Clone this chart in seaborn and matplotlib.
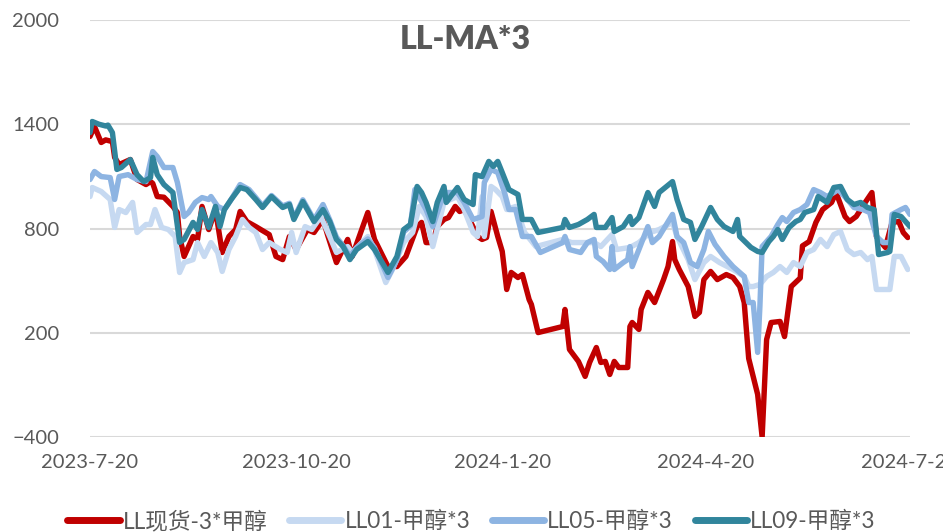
import datetime as dt
import pandas as pd
import matplotlib
matplotlib.use("Agg")
import matplotlib.pyplot as plt
import matplotlib.dates as mdates
from matplotlib.lines import Line2D
import seaborn as sns

START = dt.date(2023, 7, 20)

series_names = ["LL现货-3*甲醇", "LL01-甲醇*3", "LL05-甲醇*3", "LL09-甲醇*3"]
series_colors = ["#C00000", "#C6D9F1", "#8DB4E2", "#31859C"]

# day offsets from 2023-07-20 and values
spot_days = [0, 2, 5, 7, 10, 11, 13, 18, 21, 25, 27, 28, 30, 33, 37, 39, 40, 42, 46, 48, 50, 53, 56, 59, 62, 65, 67, 70,
             74, 80, 83, 86, 89, 92, 97, 100, 104, 106, 110, 115, 117, 124, 127, 133, 137, 141, 146, 148, 150, 153, 155,
             158, 160, 163, 165, 167, 170, 173, 175, 177, 179, 182, 184, 186, 188, 191, 193, 196, 197, 200, 211, 212,
             214, 218, 221, 223, 226, 228, 230, 232, 234, 236, 240, 241, 242, 245, 246, 249, 252, 256, 258, 260, 261,
             263, 267, 270, 272, 274, 277, 280, 284, 287, 290, 292, 294, 298, 300, 302, 304, 308, 310, 313, 317, 318,
             321, 324, 327, 331, 333, 337, 339, 342, 346, 349, 351, 355, 358, 361, 363, 365]
spot_vals = [1330, 1387, 1295, 1310, 1300, 1209, 1168, 1197, 1082, 1053, 1070, 1060, 984, 980, 927, 892, 754, 639, 754,
             737, 927, 794, 909, 662, 754, 794, 898, 840, 811, 765, 639, 621, 754, 679, 794, 777, 852, 765, 604, 737,
             639, 892, 737, 581, 581, 639, 811, 835, 719, 719, 811, 852, 863, 927, 898, 909, 835, 754, 737, 748, 898,
             754, 668, 449, 547, 518, 535, 391, 363, 201, 236, 334, 104, 35, -51, 29, 115, 29, 35, -40, 35, 0, 0, 236,
             259, 219, 334, 432, 374, 506, 581, 725, 621, 564, 466, 294, 317, 506, 553, 506, 535, 518, 466, 374, 52,
             -155, -400, 161, 259, 265, 178, 466, 515, 700, 725, 835, 909, 950, 1007, 869, 840, 869, 950, 1007, 754,
             691, 835, 840, 777, 748]

ll01_days = [0, 1, 5, 9, 11, 13, 16, 19, 21, 25, 27, 29, 32, 35, 38, 40, 42, 46, 48, 51, 54, 57, 59, 62, 65, 68, 71, 74,
             77, 80, 85, 88, 90, 92, 96, 99, 103, 107, 110, 115, 117, 124, 127, 132, 135, 140, 144, 147, 150, 153, 158,
             164, 167, 171, 173, 175, 176, 179, 181, 184, 186, 190, 194, 199, 211, 215, 219, 225, 228, 233, 235, 241,
             245, 250, 254, 260, 262, 267, 270, 274, 277, 281, 287, 292, 294, 296, 299, 302, 305, 308, 311, 314, 317,
             320, 323, 326, 329, 332, 335, 338, 341, 344, 347, 349, 351, 357, 359, 362, 365]
ll01_vals = [984, 1036, 1013, 967, 806, 909, 892, 950, 777, 823, 823, 909, 806, 794, 754, 547, 604, 621, 719, 639, 719,
             662, 553, 679, 754, 852, 806, 777, 679, 719, 679, 662, 777, 662, 811, 794, 869, 754, 662, 696, 662, 754,
             679, 489, 564, 719, 777, 927, 869, 696, 950, 984, 909, 777, 754, 984, 754, 1042, 1024, 984, 909, 927, 777,
             696, 737, 719, 719, 719, 696, 765, 679, 691, 719, 777, 794, 835, 754, 621, 506, 604, 639, 604, 564, 524,
             466, 466, 478, 524, 547, 581, 547, 604, 581, 662, 679, 737, 696, 765, 783, 679, 650, 662, 621, 639, 449,
             449, 639, 639, 564]

ll05_days = [0, 2, 5, 9, 11, 13, 17, 21, 25, 28, 30, 33, 37, 39, 42, 44, 47, 50, 53, 54, 57, 60, 63, 67, 71, 74, 77, 81,
             86, 89, 91, 95, 100, 104, 107, 110, 113, 116, 119, 124, 127, 133, 137, 140, 143, 145, 150, 153, 158, 164,
             167, 171, 175, 176, 179, 182, 185, 187, 190, 193, 197, 201, 211, 212, 214, 219, 222, 225, 226, 229, 232,
             233, 234, 238, 240, 241, 242, 245, 249, 251, 254, 260, 262, 265, 268, 271, 274, 276, 279, 283, 287, 292,
             294, 296, 298, 299, 300, 304, 307, 309, 311, 314, 317, 320, 323, 326, 329, 332, 334, 338, 341, 345, 348,
             351, 354, 357, 358, 362, 364, 366]
ll05_vals = [1082, 1128, 1099, 1093, 967, 1099, 1110, 1082, 1070, 1243, 1214, 1151, 1151, 1065, 869, 892, 950, 978, 967,
             984, 927, 909, 967, 1053, 1024, 978, 930, 990, 930, 945, 860, 965, 850, 938, 850, 750, 700, 640, 690, 740,
             690, 518, 620, 780, 815, 1024, 909, 811, 1007, 1007, 950, 852, 869, 1065, 1140, 1122, 1007, 909, 909, 754,
             754, 662, 719, 754, 679, 662, 719, 737, 639, 610, 564, 696, 564, 604, 621, 696, 581, 679, 811, 719, 754,
             881, 754, 719, 604, 581, 679, 783, 708, 639, 581, 524, 374, 374, 87, 351, 696, 754, 823, 863, 840, 892,
             909, 938, 1024, 1007, 984, 1007, 1024, 967, 921, 909, 892, 754, 719, 719, 881, 909, 921, 881]

ll09_days = [0, 1, 4, 7, 8, 10, 12, 14, 18, 21, 24, 27, 28, 30, 33, 37, 40, 42, 46, 48, 50, 53, 56, 58, 60, 63, 67, 70,
             74, 77, 81, 86, 89, 91, 95, 100, 104, 107, 110, 113, 116, 119, 124, 127, 133, 137, 140, 143, 146, 148, 150,
             153, 155, 158, 159, 164, 167, 171, 172, 175, 178, 180, 182, 184, 187, 191, 193, 197, 200, 211, 212, 214,
             218, 222, 225, 226, 230, 233, 234, 238, 241, 242, 245, 249, 252, 254, 260, 262, 265, 268, 270, 273, 277,
             280, 283, 287, 289, 290, 295, 298, 300, 303, 305, 307, 309, 312, 315, 317, 319, 323, 325, 327, 329, 332,
             335, 338, 341, 344, 347, 350, 352, 356, 357, 359, 362, 366]
ll09_vals = [1352, 1416, 1400, 1390, 1395, 1352, 1140, 1151, 1197, 1110, 1070, 1093, 1209, 1110, 1053, 1007, 720, 737,
             835, 794, 909, 806, 927, 811, 909, 967, 1036, 1024, 967, 921, 984, 921, 938, 852, 955, 840, 909, 840, 737,
             696, 621, 679, 725, 679, 547, 639, 794, 823, 1042, 1007, 950, 840, 950, 1042, 950, 1036, 967, 938, 1110,
             1099, 1186, 1157, 1186, 1122, 1024, 996, 852, 852, 777, 806, 852, 806, 823, 852, 881, 806, 806, 863, 783,
             811, 869, 823, 863, 1007, 927, 1007, 1070, 967, 852, 835, 737, 811, 921, 852, 811, 783, 852, 754, 691, 668,
             662, 725, 754, 794, 737, 806, 840, 852, 892, 909, 984, 967, 950, 1036, 1042, 967, 938, 950, 921, 909, 650,
             662, 668, 881, 869, 811]

y_ticks = [-400, 200, 800, 1400, 2000]
x_tick_dates = ["2023-07-20", "2023-10-20", "2024-01-20", "2024-04-20", "2024-07-20"]
title_text = "LL-MA*3"

all_days = [spot_days, ll01_days, ll05_days, ll09_days]
all_vals = [spot_vals, ll01_vals, ll05_vals, ll09_vals]
frames = []
for name, d, v in zip(series_names, all_days, all_vals):
    frames.append(pd.DataFrame({
        "date": [pd.Timestamp(START + dt.timedelta(days=int(x))) for x in d],
        "value": v,
        "series": name,
    }))
df = pd.concat(frames, ignore_index=True)

sns.set_theme(style="white")
plt.rcParams["font.family"] = ["Lato", "Noto Sans CJK SC", "DejaVu Sans"]

fig = plt.figure(figsize=(9.43, 5.32), dpi=100)
ax = fig.add_axes([90 / 943, 1 - 437 / 532, 820 / 943, 417 / 532])

sns.lineplot(data=df, x="date", y="value", hue="series", hue_order=series_names,
             palette=dict(zip(series_names, series_colors)), estimator=None,
             linewidth=3.9, ax=ax, legend=False, sort=True)

ax.set_ylim(-400, 2000)
ax.set_yticks(y_ticks)
ax.set_xlim(pd.Timestamp("2023-07-20"), pd.Timestamp("2024-07-20"))
ax.set_xticks([pd.Timestamp(s) for s in x_tick_dates])
ax.xaxis.set_major_formatter(matplotlib.ticker.FuncFormatter(
    lambda x, pos: (lambda d: f"{d.year}-{d.month}-{d.day}")(mdates.num2date(x))))
ax.set_xlabel("")
ax.set_ylabel("")
ax.grid(axis="y", color="#D9D9D9", linewidth=1.5)
ax.grid(axis="x", visible=False)
for s in ax.spines.values():
    s.set_visible(False)
ax.tick_params(axis="y", length=0, pad=22, labelsize=14.5, labelcolor="#595959")
ax.tick_params(axis="x", length=0, pad=12, labelsize=14.5, labelcolor="#595959")
ax.set_axisbelow(True)

fig.text(0.493, 0.925, title_text, ha="center", va="center", fontsize=23, fontweight="heavy", color="#595959")

handles = [Line2D([0], [0], color=c, linewidth=5, solid_capstyle="round") for c in series_colors]
fig.legend(handles, series_names, loc="center", bbox_to_anchor=(0.5, 0.02), ncol=4, frameon=False,
           fontsize=16.3, handlelength=2.3, handletextpad=0.15, columnspacing=0.95,
           labelcolor="#595959")

fig.savefig("out.png", dpi=100)
